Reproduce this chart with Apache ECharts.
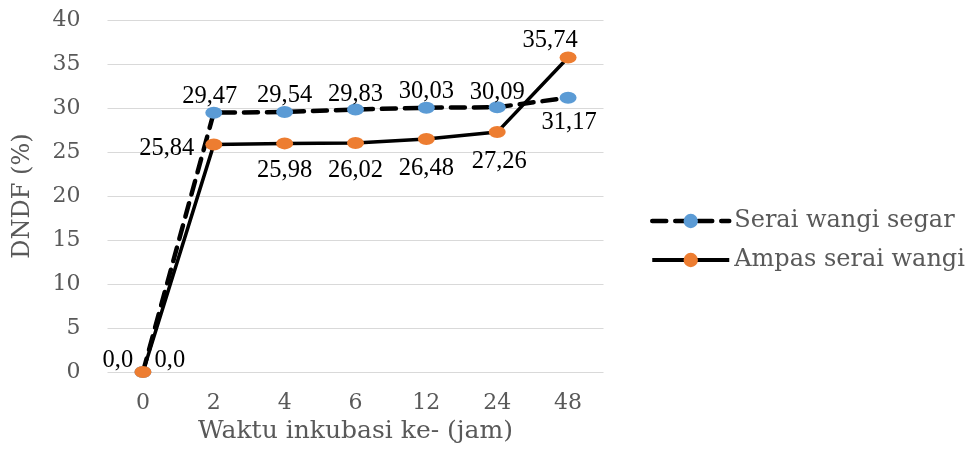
<!DOCTYPE html>
<html>
<head>
<meta charset="utf-8">
<title>DNDF</title>
<script src="https://cdn.jsdelivr.net/npm/echarts@6/dist/echarts.min.js"></script>
<style>
  html, body { margin: 0; padding: 0; background: #ffffff; }
  #chart { width: 974px; height: 450px; }
</style>
</head>
<body>
<div id="chart"></div>
<script>
// Incubation times (hours) and DNDF (%) for the two feed materials
const categories = ['0', '2', '4', '6', '12', '24', '48'];
const seraiSegar = [0, 29.47, 29.54, 29.83, 30.03, 30.09, 31.17];
const ampasSerai = [0, 25.84, 25.98, 26.02, 26.48, 27.26, 35.74];
const yTicks = [0, 5, 10, 15, 20, 25, 30, 35, 40];

// Where each value label sits around its marker (dx, dy in px)
const seraiLabelShift = [[27, -11], [-4, -16], [0, -16], [0, -15], [0, -16], [0, -15], [1, 25]];
const ampasLabelShift = [[-25, -11], [-47, 4], [0, 27], [0, 28], [0, 30], [2, 29], [-18, -17]];

const fmt = v => (v === 0 ? '0,0' : v.toFixed(2).replace('.', ','));

function withLabels(values, shifts) {
  return values.map((v, i) => ({
    value: v,
    label: { offset: shifts[i] }
  }));
}

const grayText = '#595959';
const axisFont = 'DejaVu Serif';
const labelFont = 'Liberation Serif';

const chart = echarts.init(document.getElementById('chart'), null, { renderer: 'canvas' });

chart.setOption({
  backgroundColor: '#ffffff',
  animation: false,
  grid: {
    left: 107.5,
    right: 370.5,
    top: 20,
    bottom: 78,
    containLabel: false,
    outerBoundsMode: 'none'
  },
  legend: {
    orient: 'vertical',
    left: 645,
    top: 204,
    itemWidth: 77,
    itemHeight: 18,
    itemGap: 15,
    textStyle: {
      fontFamily: axisFont,
      fontSize: 24,
      color: grayText
    },
    data: [
      { name: 'Serai wangi segar', lineStyle: { width: 4.5 } },
      { name: 'Ampas serai wangi', lineStyle: { width: 4 } }
    ]
  },
  xAxis: {
    type: 'category',
    data: categories,
    boundaryGap: true,
    axisLine: { show: false },
    axisTick: { show: false },
    axisLabel: {
      fontFamily: axisFont,
      fontSize: 22,
      color: grayText,
      margin: 20
    },
    name: 'Waktu inkubasi ke- (jam)',
    nameLocation: 'middle',
    nameGap: 44,
    nameTextStyle: {
      fontFamily: axisFont,
      fontSize: 25,
      color: grayText
    }
  },
  yAxis: {
    type: 'value',
    min: yTicks[0],
    max: yTicks[yTicks.length - 1],
    interval: yTicks[1] - yTicks[0],
    axisLine: { show: false },
    axisTick: { show: false },
    splitLine: { lineStyle: { color: '#d9d9d9', width: 1 } },
    axisLabel: {
      fontFamily: axisFont,
      fontSize: 22,
      color: grayText,
      margin: 27
    },
    name: 'DNDF (%)',
    nameLocation: 'middle',
    nameGap: 73,
    nameTextStyle: {
      fontFamily: axisFont,
      fontSize: 24,
      color: grayText
    }
  },
  series: [
    {
      name: 'Serai wangi segar',
      type: 'line',
      data: withLabels(seraiSegar, seraiLabelShift),
      symbol: 'circle',
      symbolSize: [17, 12],
      itemStyle: { color: '#5b9bd5' },
      lineStyle: { color: '#000000', width: 4.5, type: [14, 9], cap: 'round' },
      label: {
        show: true,
        position: 'inside',
        formatter: p => fmt(p.value),
        fontFamily: labelFont,
        fontSize: 24.5,
        color: '#000000'
      },
      z: 2
    },
    {
      name: 'Ampas serai wangi',
      type: 'line',
      data: withLabels(ampasSerai, ampasLabelShift),
      symbol: 'circle',
      symbolSize: [17, 12],
      itemStyle: { color: '#ed7d31' },
      lineStyle: { color: '#000000', width: 3.5, type: 'solid' },
      label: {
        show: true,
        position: 'inside',
        formatter: p => fmt(p.value),
        fontFamily: labelFont,
        fontSize: 24.5,
        color: '#000000'
      },
      z: 3
    }
  ]
});
</script>
</body>
</html>
